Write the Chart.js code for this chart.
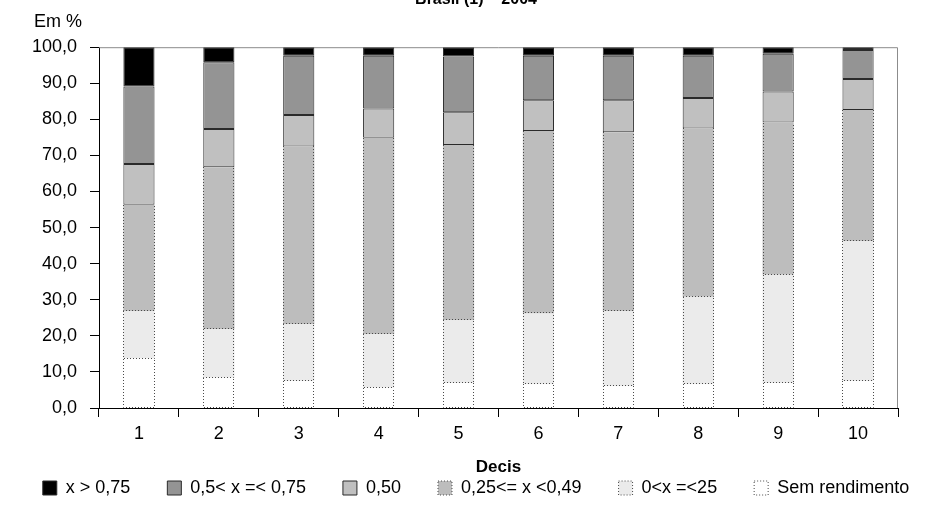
<!DOCTYPE html>
<html>
<head>
<meta charset="utf-8">
<script src="https://cdn.jsdelivr.net/npm/chart.js@4.4.1/dist/chart.umd.min.js"></script>
<style>
  body { margin: 0; background: #fff; }
  #wrap { width: 952px; height: 523px; overflow: hidden; position: relative; }
  #grafico { position: absolute; left: 0; top: -10px; }
</style>
</head>
<body>
<div id="wrap"><canvas id="grafico" width="952" height="533"></canvas></div>
<script>
const decis = ['1', '2', '3', '4', '5', '6', '7', '8', '9', '10'];

// % por faixa, de baixo para cima
const semRendimento = [13.7, 8.4, 7.5, 5.6, 6.9, 6.6, 6.0, 6.6, 6.9, 7.5];
const ate25 = [13.1, 13.4, 15.7, 14.9, 17.5, 19.6, 20.8, 24.2, 30.0, 38.8];
const de25a49 = [29.5, 44.9, 49.3, 54.4, 48.5, 50.6, 49.6, 46.7, 42.2, 36.3];
const igual50 = [11.3, 10.6, 8.7, 8.1, 9.1, 8.5, 8.9, 8.4, 8.6, 8.6];
const de50a75 = [21.5, 18.5, 16.4, 14.6, 15.4, 12.3, 12.3, 11.7, 10.5, 8.0];
const acima75 = [10.9, 4.2, 2.4, 2.4, 2.6, 2.4, 2.4, 2.4, 1.8, 0.8];

const FONTE = "'Liberation Sans', Arial, Helvetica, sans-serif";

// borda pontilhada nas tres faixas de baixo
const pontilhado = {
    id: 'pontilhado',
    afterDatasetsDraw(chart) {
        const ctx = chart.ctx;
        ctx.save();
        ctx.strokeStyle = '#4a4a4a';
        ctx.lineWidth = 1;
        ctx.setLineDash([1, 2]);
        chart.data.datasets.forEach((ds, i) => {
            if (!ds.pontilhado) return;
            chart.getDatasetMeta(i).data.forEach(bar => {
                const p = bar.getProps(['x', 'y', 'base', 'width'], true);
                const l = Math.round(p.x - p.width / 2) + 0.5;
                const r = Math.round(p.x + p.width / 2) - 0.5;
                const b = Math.round(p.base) - 0.5;
                const t = Math.round(p.y);
                ctx.beginPath();
                ctx.moveTo(l, t); ctx.lineTo(l, b);
                ctx.lineTo(r, b); ctx.lineTo(r, t);
                ctx.stroke();
            });
        });
        ctx.restore();
    }
};

// moldura cinza (topo e direita) e rotulo "Em %"
const moldura = {
    id: 'moldura',
    beforeDatasetsDraw(chart) {
        const {ctx, chartArea: a} = chart;
        ctx.save();
        ctx.strokeStyle = '#8c8c8c';
        ctx.lineWidth = 1;
        ctx.beginPath();
        ctx.moveTo(a.left, a.top + 0.5);
        ctx.lineTo(a.right - 0.5, a.top + 0.5);
        ctx.lineTo(a.right - 0.5, a.bottom);
        ctx.stroke();
        ctx.fillStyle = '#000';
        ctx.font = '18px ' + FONTE;
        ctx.textAlign = 'left';
        ctx.textBaseline = 'middle';
        ctx.fillText('Em %', 34, a.top - 25);
        ctx.restore();
    }
};

const solido = { borderColor: '#2a2a2a', borderWidth: 1, borderSkipped: false };

new Chart(document.getElementById('grafico'), {
    type: 'bar',
    data: {
        labels: decis,
        datasets: [
            { label: 'Sem rendimento', data: semRendimento, backgroundColor: '#ffffff', borderWidth: 0, pontilhado: true },
            { label: '0<x =<25', data: ate25, backgroundColor: '#ebebeb', borderWidth: 0, pontilhado: true },
            { label: '0,25<= x <0,49', data: de25a49, backgroundColor: '#bdbdbd', borderWidth: 0, pontilhado: true },
            Object.assign({ label: '0,50', data: igual50, backgroundColor: '#c0c0c0' }, solido),
            Object.assign({ label: '0,5< x =< 0,75', data: de50a75, backgroundColor: '#949494' }, solido),
            Object.assign({ label: 'x > 0,75', data: acima75, backgroundColor: '#000000' }, solido)
        ]
    },
    options: {
        responsive: false,
        animation: false,
        devicePixelRatio: 1,
        barPercentage: 0.39,
        categoryPercentage: 1,
        layout: { padding: { left: 0, right: 0, top: 0, bottom: 16 } },
        plugins: {
            title: {
                display: true,
                text: 'Brasil (1) – 2004',
                color: '#000',
                font: { family: FONTE, size: 16, weight: 'bold' },
                padding: { top: 0, bottom: 38 }
            },
            legend: {
                position: 'bottom',
                reverse: true,
                labels: {
                    color: '#000',
                    font: { family: FONTE, size: 18 },
                    boxWidth: 14,
                    boxHeight: 14,
                    padding: 37,
                    generateLabels(chart) {
                        const itens = Chart.defaults.plugins.legend.labels.generateLabels(chart);
                        itens.forEach(it => {
                            const ds = chart.data.datasets[it.datasetIndex];
                            it.lineWidth = 1;
                            if (ds.pontilhado) {
                                it.strokeStyle = '#4a4a4a';
                                it.lineDash = [1, 2];
                            } else {
                                it.strokeStyle = '#2a2a2a';
                            }
                        });
                        return itens;
                    }
                }
            },
            tooltip: { enabled: false }
        },
        scales: {
            x: {
                stacked: true,
                afterFit(s) { s.height = 34; },
                grid: { offset: true, drawOnChartArea: false, drawTicks: true, tickLength: 9, color: '#000' },
                border: { color: '#000', width: 1 },
                ticks: { color: '#000', font: { family: FONTE, size: 18 }, padding: 6 },
                title: {
                    display: true,
                    text: 'Decis',
                    color: '#000',
                    font: { family: FONTE, size: 17, weight: 'bold' },
                    padding: { top: 0, bottom: -36 }
                }
            },
            y: {
                stacked: true,
                min: 0,
                max: 100,
                afterFit(s) { s.width = 99; },
                grid: { drawOnChartArea: false, drawTicks: true, tickLength: 9, color: '#000' },
                border: { color: '#000', width: 1 },
                ticks: {
                    stepSize: 10,
                    color: '#000',
                    font: { family: FONTE, size: 18 },
                    padding: 13,
                    callback: v => v.toFixed(1).replace('.', ',')
                }
            },
            // eixo vazio a direita so para reservar a margem
            margem: {
                position: 'right',
                display: true,
                afterFit(s) { s.width = 54; },
                grid: { display: false },
                border: { display: false },
                ticks: { display: false }
            }
        }
    },
    plugins: [moldura, pontilhado]
});
</script>
</body>
</html>
